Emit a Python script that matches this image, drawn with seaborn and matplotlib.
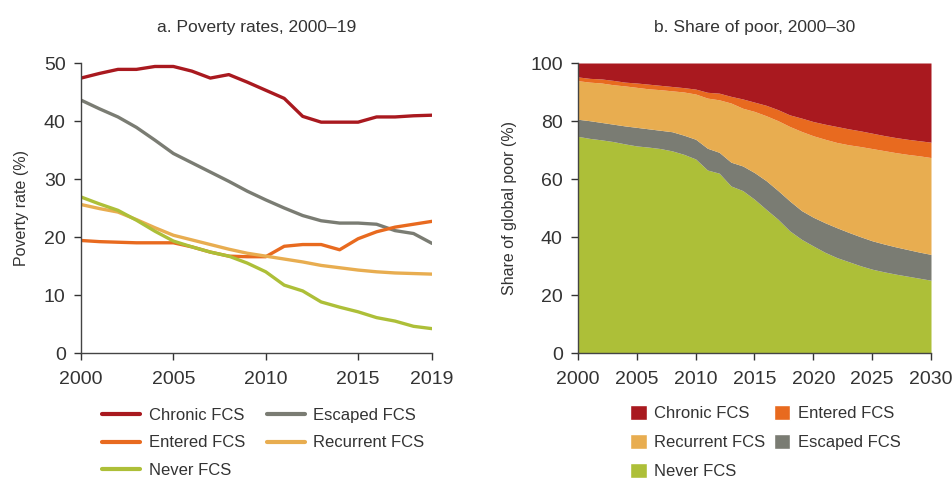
import numpy as np
import pandas as pd
import seaborn as sns
import matplotlib.pyplot as plt
from matplotlib.patches import Patch
from matplotlib.lines import Line2D

# panel a: poverty rates 2000-19
years_a = list(range(2000, 2020))
chronic_rate = [47.4, 48.2, 48.9, 48.9, 49.4, 49.4, 48.6, 47.4, 48.0, 46.7,
                45.3, 43.9, 40.8, 39.8, 39.8, 39.8, 40.7, 40.7, 40.9, 41.0]
escaped_rate = [43.6, 42.1, 40.7, 38.9, 36.7, 34.4, 32.8, 31.2, 29.6, 27.9,
                26.4, 25.0, 23.7, 22.8, 22.4, 22.4, 22.2, 21.1, 20.6, 18.9]
entered_rate = [19.4, 19.2, 19.1, 19.0, 19.0, 19.0, 18.3, 17.4, 16.7, 16.6,
                16.6, 18.4, 18.7, 18.7, 17.8, 19.7, 20.9, 21.7, 22.2, 22.7]
recurrent_rate = [25.6, 24.9, 24.3, 23.0, 21.6, 20.3, 19.5, 18.7, 17.9, 17.2,
                  16.7, 16.2, 15.7, 15.1, 14.7, 14.3, 14.0, 13.8, 13.7, 13.6]
never_rate = [26.9, 25.7, 24.6, 22.9, 21.0, 19.3, 18.3, 17.4, 16.7, 15.5,
              14.0, 11.7, 10.7, 8.8, 7.9, 7.1, 6.1, 5.5, 4.6, 4.2]

# panel b: share of global poor 2000-30
years_b = list(range(2000, 2031))
never_share = [74.7, 74.0, 73.5, 72.9, 72.1, 71.4, 71.0, 70.5, 69.7, 68.5, 66.9,
               63.1, 62.0, 57.6, 56.0, 53.0, 49.5, 46.1, 42.1, 39.2, 36.9,
               34.7, 32.9, 31.5, 30.1, 28.9, 28.0, 27.2, 26.5, 25.8, 25.1]
escaped_share = [5.9, 6.1, 6.0, 6.0, 6.2, 6.4, 6.3, 6.3, 6.6, 6.6, 6.8,
                 7.5, 7.2, 8.2, 8.5, 9.2, 9.9, 9.9, 10.3, 9.9, 9.9,
                 10.2, 10.3, 10.1, 10.0, 9.8, 9.6, 9.4, 9.2, 9.0, 8.9]
recurrent_share = [13.3, 13.3, 13.6, 13.6, 13.8, 13.8, 13.8, 14.0, 14.1, 14.9, 15.6,
                   17.3, 18.1, 20.4, 19.9, 21.1, 22.4, 24.1, 25.7, 27.3, 28.1,
                   28.8, 29.4, 30.2, 31.1, 31.8, 32.2, 32.5, 32.8, 33.2, 33.4]
entered_share = [1.3, 1.3, 1.4, 1.5, 1.3, 1.5, 1.6, 1.5, 1.5, 1.5, 1.7,
                 2.0, 2.3, 2.3, 3.2, 3.2, 3.6, 3.8, 4.0, 4.6, 4.9,
                 5.2, 5.5, 5.5, 5.4, 5.3, 5.2, 5.2, 5.2, 5.2, 5.3]
chronic_share = [4.8, 5.3, 5.5, 6.0, 6.6, 6.9, 7.3, 7.7, 8.1, 8.5, 9.0,
                 10.1, 10.4, 11.5, 12.4, 13.5, 14.6, 16.1, 17.9, 19.0, 20.2,
                 21.1, 21.9, 22.7, 23.4, 24.2, 25.0, 25.7, 26.3, 26.8, 27.3]

colors = {"Chronic FCS": "#A9191F", "Escaped FCS": "#7A7C73", "Entered FCS": "#E86A1F",
          "Recurrent FCS": "#E8AD50", "Never FCS": "#ADBF38"}

sns.set_style("ticks")
plt.rcParams['font.family'] = ['Liberation Sans', 'DejaVu Sans']
txt = "#333333"

fig = plt.figure(figsize=(9.53, 4.79), dpi=100)
ax1 = fig.add_axes([81 / 953, 1 - 353 / 479, 351 / 953, 290 / 479])
ax2 = fig.add_axes([578 / 953, 1 - 353 / 479, 353 / 953, 290 / 479])

df_a = pd.DataFrame({"year": years_a, "Chronic FCS": chronic_rate, "Escaped FCS": escaped_rate,
                     "Entered FCS": entered_rate, "Recurrent FCS": recurrent_rate,
                     "Never FCS": never_rate})
long_a = df_a.melt(id_vars="year", var_name="group", value_name="rate")
sns.lineplot(data=long_a, x="year", y="rate", hue="group", palette=colors, linewidth=2.4,
             ax=ax1, legend=False)

ax1.set_xlim(2000, 2019)
ax1.set_ylim(0, 50)
ax1.set_xticks([2000, 2005, 2010, 2015, 2019])
ax1.set_yticks(range(0, 51, 10))
ax1.set_xlabel("")
ax1.set_ylabel("Poverty rate (%)", fontsize=11.5, color=txt)
ax1.yaxis.set_label_coords((29 - 81) / 351, 0.5)
ax1.set_title("a. Poverty rates, 2000–19", fontsize=12.5, color=txt, pad=22)

order_a = ["Chronic FCS", "Entered FCS", "Never FCS", "Escaped FCS", "Recurrent FCS"]
handles_a = [Line2D([0], [0], color=colors[g], lw=3) for g in order_a]
fig.legend(handles_a, order_a, ncol=2, loc="upper left", bbox_to_anchor=(102 / 953, 1 - 408 / 479),
           frameon=False, fontsize=12, handlelength=2.3, columnspacing=1.3,
           labelspacing=0.74, handletextpad=0.5, labelcolor=txt, borderaxespad=0, borderpad=0)

# panel b
stack_order = ["Never FCS", "Escaped FCS", "Recurrent FCS", "Entered FCS", "Chronic FCS"]
stack_vals = [never_share, escaped_share, recurrent_share, entered_share, chronic_share]
ax2.stackplot(years_b, *stack_vals, colors=[colors[g] for g in stack_order], linewidth=0)
ax2.set_xlim(2000, 2030)
ax2.set_ylim(0, 100)
ax2.set_xticks(range(2000, 2031, 5))
ax2.set_yticks(range(0, 101, 20))
ax2.set_ylabel("Share of global poor (%)", fontsize=11.5, color=txt)
ax2.yaxis.set_label_coords((517 - 578) / 353, 0.5)
ax2.set_title("b. Share of poor, 2000–30", fontsize=12.5, color=txt, pad=22)

order_b = ["Chronic FCS", "Recurrent FCS", "Never FCS", "Entered FCS", "Escaped FCS"]
handles_b = [Patch(facecolor=colors[g]) for g in order_b]
fig.legend(handles_b, order_b, ncol=2, loc="upper left", bbox_to_anchor=(630 / 953, 1 - 405 / 479),
           frameon=False, fontsize=12, handlelength=1.0, handleheight=1.0, columnspacing=0.5,
           labelspacing=0.78, handletextpad=0.45, labelcolor=txt, borderaxespad=0, borderpad=0)

for ax in (ax1, ax2):
    sns.despine(ax=ax)
    ax.tick_params(axis="both", labelsize=14, colors=txt, length=5, width=1, direction="out")
    ax.tick_params(axis="x", pad=8)
    ax.tick_params(axis="y", pad=6)
    for s in ("left", "bottom"):
        ax.spines[s].set_color("#444444")
        ax.spines[s].set_linewidth(1)

fig.savefig("out.png", dpi=100)
